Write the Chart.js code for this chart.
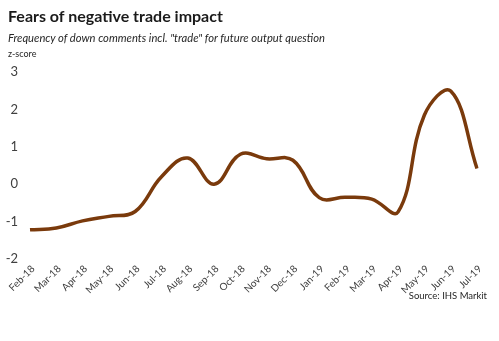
<!DOCTYPE html>
<html>
<head>
<meta charset="utf-8">
<script src="https://cdn.jsdelivr.net/npm/chart.js@4"></script>
<style>
    body { margin: 0; background: #fff; }
    #wrap { position: relative; width: 499px; height: 341px; font-family: Lato, "Open Sans", sans-serif; }
    #wrap canvas { position: absolute; left: 0; top: 0; }
    .txt { position: absolute; white-space: nowrap; }
    #title { left: 8px; top: 6px; font-size: 16px; font-weight: bold; color: #1a1a1a; }
    #sub { left: 8px; top: 31px; font-size: 11.2px; font-style: italic; color: #262626; }
    #unit { left: 8px; top: 48px; font-size: 9px; color: #262626; }
    #source { right: 12px; top: 290px; font-size: 9.5px; color: #262626; }
</style>
</head>
<body>
<div id="wrap">
    <canvas id="myChart" width="499" height="341"></canvas>
    <div class="txt" id="title">Fears of negative trade impact</div>
    <div class="txt" id="sub">Frequency of down comments incl. "trade" for future output question</div>
    <div class="txt" id="unit">z-score</div>
    <div class="txt" id="source">Source: IHS Markit</div>
</div>
<script>
const thang = ['Feb-18', 'Mar-18', 'Apr-18', 'May-18', 'Jun-18', 'Jul-18', 'Aug-18', 'Sep-18', 'Oct-18',
    'Nov-18', 'Dec-18', 'Jan-19', 'Feb-19', 'Mar-19', 'Apr-19', 'May-19', 'Jun-19', 'Jul-19'];
const zscore = [-1.22, -1.17, -0.98, -0.86, -0.73, 0.2, 0.70, 0.0, 0.8,
    0.68, 0.64, -0.36, -0.35, -0.40, -0.74, 1.85, 2.49, 0.42];
const yTicks = [3, 2, 1, 0, -1, -2];

const tickFont = { family: 'Lato, "Open Sans", sans-serif', size: 10 };

const config = {
    type: 'line',
    data: {
        labels: thang,
        datasets: [{
            data: zscore,
            borderColor: '#7a3a0c',
            borderWidth: 3.5,
            pointRadius: 0,
            tension: 0.4,
            fill: false
        }]
    },
    options: {
        responsive: false,
        animation: false,
        layout: { padding: { left: 4, right: 22, top: 72, bottom: 0 } },
        plugins: {
            legend: { display: false },
            tooltip: { enabled: false }
        },
        scales: {
            x: {
                offset: false,
                grid: { display: false, drawTicks: false },
                border: { display: false },
                ticks: {
                    color: '#404040',
                    font: tickFont,
                    minRotation: 45,
                    maxRotation: 45,
                    padding: 4,
                    labelOffset: 3,
                    autoSkip: false
                },
                afterFit: function (scale) { scale.height = 82; }
            },
            y: {
                min: -2,
                max: 3,
                grid: { display: false, drawTicks: false },
                border: { display: false },
                afterBuildTicks: function (scale) {
                    scale.ticks = yTicks.map(v => ({ value: v }));
                },
                ticks: {
                    color: '#404040',
                    font: { family: tickFont.family, size: 13 },
                    padding: 12
                },
                afterFit: function (scale) { scale.width = 26; }
            }
        }
    }
};

const myChart = new Chart(document.getElementById('myChart'), config);
</script>
</body>
</html>
